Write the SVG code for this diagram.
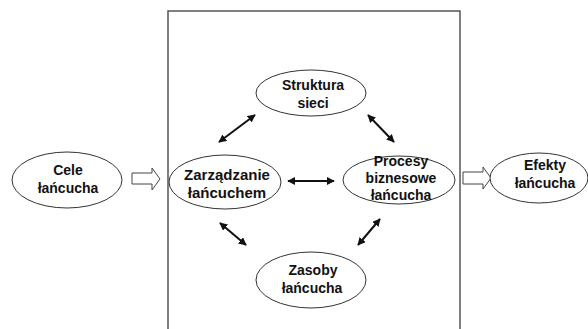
<svg xmlns="http://www.w3.org/2000/svg" width="588" height="329" viewBox="0 0 588 329">
<style>
.n{fill:#fff;stroke:#333;stroke-width:1}
.t{font-family:"Liberation Sans",Arial,sans-serif;font-weight:bold;font-size:14px;fill:#111;text-anchor:middle}
.b{font-size:15px}
.c{stroke:#111;stroke-width:2;fill:none;marker-start:url(#a);marker-end:url(#a)}
.h{fill:#fff;stroke:#444;stroke-width:1}
</style>
<defs>
<marker id="a" viewBox="0 0 10 10" refX="9" refY="5" markerWidth="4" markerHeight="4" orient="auto-start-reverse" markerUnits="strokeWidth">
<path d="M0,0 L10,5 L0,10 z" fill="#111"/>
</marker>
</defs>
<rect x="168" y="11" width="292" height="340" fill="none" stroke="#555" stroke-width="1.5"/>
<g id="connectors">
<line class="c" x1="219" y1="142" x2="255" y2="115"/>
<line class="c" x1="368" y1="115" x2="394" y2="142"/>
<line class="c" x1="288" y1="181" x2="334" y2="181"/>
<line class="c" x1="220" y1="223" x2="246" y2="245"/>
<line class="c" x1="380" y1="219" x2="358" y2="245"/>
<path class="h" d="M132,173 H152 V168 L160,179 L152,190 V184 H132 Z"/>
<path class="h" d="M463,172 H483 V167 L491,178 L483,189 V184 H463 Z"/>
</g>
<g id="cele">
<ellipse class="n" cx="67" cy="180" rx="55" ry="28"/>
<text class="t" x="68" y="175">Cele</text>
<text class="t" x="68" y="193">łańcucha</text>
</g>
<g id="zarzadzanie">
<ellipse class="n" cx="225" cy="182" rx="56" ry="27"/>
<text class="t b" x="227" y="180">Zarządzanie</text>
<text class="t b" x="227" y="198">łańcuchem</text>
</g>
<g id="struktura">
<ellipse class="n" cx="311" cy="93" rx="55" ry="23"/>
<text class="t" x="313" y="90">Struktura</text>
<text class="t" x="313" y="108">sieci</text>
</g>
<g id="procesy">
<ellipse class="n" cx="399" cy="180" rx="56" ry="24"/>
<text class="t" x="401" y="166">Procesy</text>
<text class="t" x="401" y="183">biznesowe</text>
<text class="t" x="401" y="200">łańcucha</text>
</g>
<g id="zasoby">
<ellipse class="n" cx="311" cy="280" rx="55" ry="28"/>
<text class="t" x="313" y="275">Zasoby</text>
<text class="t" x="312" y="293">łańcucha</text>
</g>
<g id="efekty">
<ellipse class="n" cx="539" cy="178" rx="49" ry="25"/>
<text class="t" x="545" y="170">Efekty</text>
<text class="t" x="545" y="188">łańcucha</text>
</g>
</svg>
